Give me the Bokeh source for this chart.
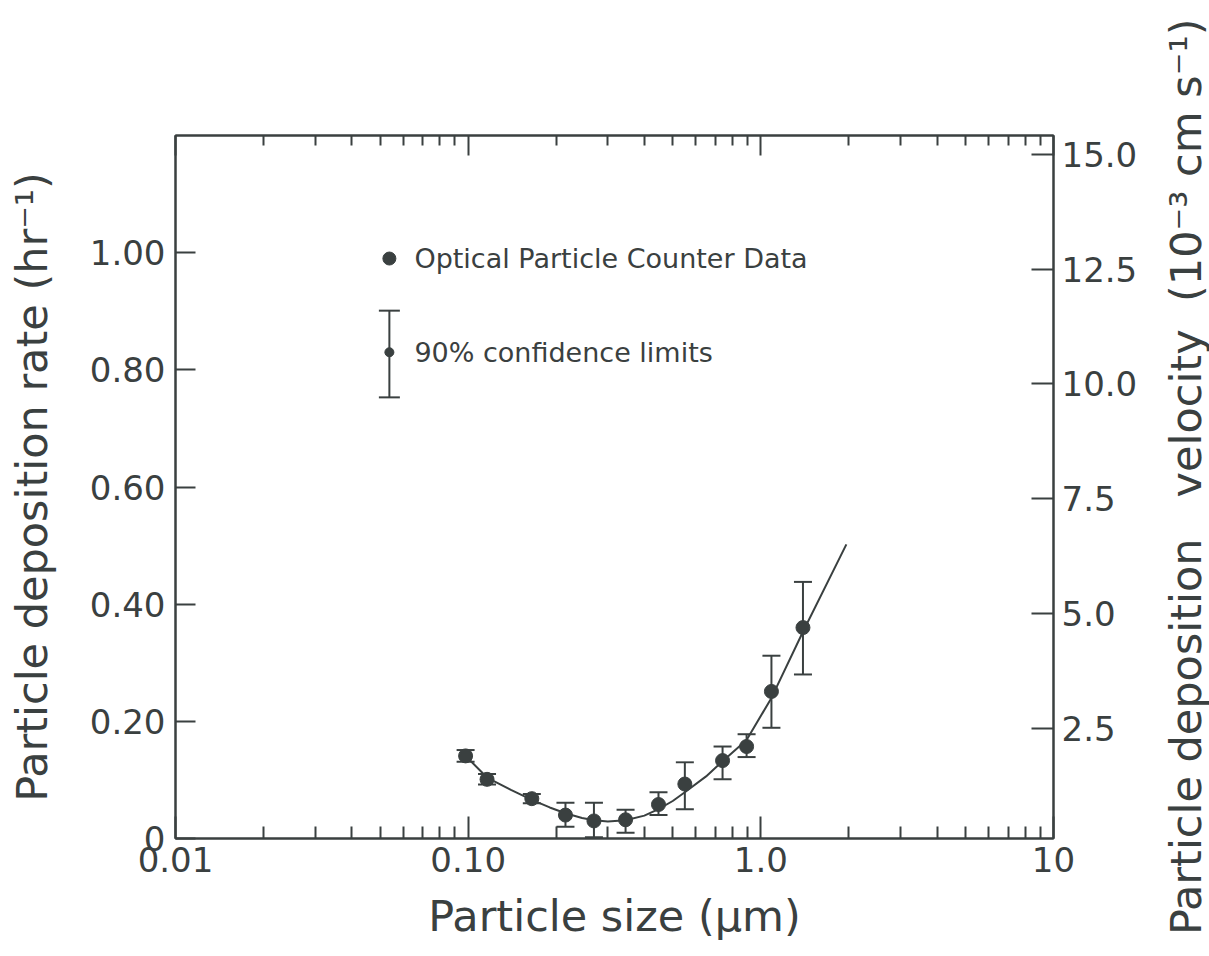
from bokeh.plotting import figure
from bokeh.layouts import row
from bokeh.models import (LogAxis, LinearAxis, Range1d, FixedTicker, Whisker, Div,
                          ColumnDataSource, Label, TeeHead, PrintfTickFormatter)
from bokeh.embed import file_html
from bokeh.resources import INLINE

# ---------------- data ----------------
size_um = [0.098, 0.116, 0.165, 0.215, 0.269, 0.345, 0.447, 0.55, 0.74, 0.894, 1.087, 1.393]
rate = [0.141, 0.101, 0.068, 0.040, 0.030, 0.032, 0.058, 0.093, 0.133, 0.157, 0.251, 0.360]
rate_lower = [0.131, 0.092, 0.060, 0.020, 0.002, 0.010, 0.040, 0.050, 0.101, 0.139, 0.189, 0.280]
rate_upper = [0.151, 0.110, 0.076, 0.061, 0.061, 0.049, 0.079, 0.130, 0.157, 0.178, 0.312, 0.438]

fit_size = [0.098, 0.116, 0.14, 0.165, 0.19, 0.215, 0.245, 0.27, 0.30, 0.345, 0.40,
            0.447, 0.50, 0.55, 0.65, 0.74, 0.894, 1.087, 1.393, 1.96]
fit_rate = [0.141, 0.104, 0.083, 0.066, 0.053, 0.043, 0.035, 0.031, 0.029, 0.031, 0.039,
            0.050, 0.064, 0.079, 0.106, 0.132, 0.168, 0.240, 0.353, 0.502]

x_major_ticks = [0.01, 0.1, 1, 10]
x_tick_labels = ["0.01", "0.10", "1.0", "10"]
y_left_ticks = [0, 0.2, 0.4, 0.6, 0.8, 1.0]
y_right_ticks = [2.5, 5.0, 7.5, 10.0, 12.5, 15.0]

x_title = "Particle size (\u03bcm)"
y_left_title = "Particle deposition rate (hr\u207b\u00b9)"
y_right_title = "Particle deposition\u00a0\u00a0\u00a0velocity\u00a0\u00a0(10\u207b\u00b3 cm s\u207b\u00b9)"

legend_marker_label = "Optical Particle Counter Data"
legend_bar_label = "90% confidence limits"
# legend sample (in data units of the chart area)
legend_x = 0.0538
legend_text_x = 0.0655
legend_marker_y = 0.990
legend_bar_y, legend_bar_lo, legend_bar_hi = 0.830, 0.753, 0.901

INK = "#3a4040"
FONT = "DejaVu Sans"

x_minor_ticks = [k * d for d in (0.01, 0.1, 1) for k in range(2, 10)]

FRAME_W, FRAME_H = 878, 703
TITLE_STRIP_W = 56
p = figure(x_axis_type="log", x_range=(0.01, 10), y_range=(0, 1.2),
           frame_width=FRAME_W, frame_height=FRAME_H,
           min_border_left=175, min_border_right=1209 - 175 - FRAME_W - TITLE_STRIP_W,
           min_border_top=135, min_border_bottom=118,
           output_backend="svg", toolbar_location=None,
           background_fill_color="white", border_fill_color="white")
p.grid.visible = False
p.outline_line_color = INK
p.outline_line_width = 2

xticker = FixedTicker(ticks=x_major_ticks, minor_ticks=x_minor_ticks)

# bottom axis
xa = p.xaxis[0]
xa.ticker = xticker
xa.major_label_overrides = {t: l for t, l in zip(x_major_ticks, x_tick_labels)}
xa.axis_label = x_title

# left axis
ya = p.yaxis[0]
ya.ticker = FixedTicker(ticks=y_left_ticks)
ya.formatter = PrintfTickFormatter(format="%.2f")
ya.major_label_overrides = {0: "0"}
ya.axis_label = y_left_title

# top axis (ticks only, labels invisible)
top = LogAxis(ticker=xticker, major_label_text_font_size="10px",
              major_label_text_alpha=0.0, major_label_standoff=0)
p.add_layout(top, "above")

# right axis
p.extra_y_ranges = {"v": Range1d(0.1, 15.41)}
ra = LinearAxis(y_range_name="v", ticker=FixedTicker(ticks=y_right_ticks),
                formatter=PrintfTickFormatter(format="%.1f"))
p.add_layout(ra, "right")

for ax in [xa, ya, top, ra]:
    ax.axis_line_color = INK
    ax.axis_line_width = 2
    ax.major_tick_line_color = INK
    ax.major_tick_line_width = 2
    ax.minor_tick_line_color = INK
    ax.minor_tick_line_width = 2
    ax.major_tick_out = 0
    ax.minor_tick_out = 0
    ax.major_label_text_font = FONT
    ax.axis_label_text_font = FONT
    ax.axis_label_text_color = INK
    ax.axis_label_text_font_style = "normal"
    ax.axis_label_text_font_size = "43px"

for ax in [xa, ya, ra]:
    ax.major_label_text_font_size = "34px"
    ax.major_label_text_color = INK

xa.major_tick_in = 22
xa.minor_tick_in = 12
top.major_tick_in = 20
top.minor_tick_in = 10
ya.major_tick_in = 20
ya.minor_tick_in = 0
ra.major_tick_in = 22
ra.minor_tick_in = 0

xa.major_label_standoff = 8
ya.major_label_standoff = 10
ra.major_label_standoff = 8
xa.axis_label_standoff = 16
ya.axis_label_standoff = 30

# fitted curve
p.line(fit_size, fit_rate, line_color=INK, line_width=2)

# error bars
src = ColumnDataSource(dict(x=size_um, y=rate, lo=rate_lower, hi=rate_upper))
wh = Whisker(source=src, base="x", lower="lo", upper="hi", dimension="height",
             line_color=INK, line_width=2,
             upper_head=TeeHead(size=18, line_color=INK, line_width=2),
             lower_head=TeeHead(size=18, line_color=INK, line_width=2))
p.add_layout(wh)
p.scatter("x", "y", source=src, size=14, fill_color=INK, line_color=INK)

# legend samples
p.scatter([legend_x], [legend_marker_y], size=13, fill_color=INK, line_color=INK)
lsrc = ColumnDataSource(dict(x=[legend_x], lo=[legend_bar_lo], hi=[legend_bar_hi]))
p.add_layout(Whisker(source=lsrc, base="x", lower="lo", upper="hi", dimension="height",
                     line_color=INK, line_width=2,
                     upper_head=TeeHead(size=21, line_color=INK, line_width=2),
                     lower_head=TeeHead(size=21, line_color=INK, line_width=2)))
p.scatter([legend_x], [legend_bar_y], size=9, fill_color=INK, line_color=INK)

for txt, yy in [(legend_marker_label, legend_marker_y), (legend_bar_label, legend_bar_y)]:
    p.add_layout(Label(x=legend_text_x, y=yy, text=txt, text_font=FONT,
                       text_font_size="27px", text_color=INK, text_baseline="middle"))

# narrow strip on the right carrying the right-axis title (reads bottom to top)
strip_html = (
    "<div style=\"writing-mode:vertical-rl; transform:rotate(180deg); "
    "white-space:nowrap; text-align:center; height:944px; width:"
    + str(TITLE_STRIP_W) + "px; line-height:" + str(TITLE_STRIP_W) + "px; "
    "font-family:'DejaVu Sans'; font-size:43px; color:" + INK + ";\">"
    + y_right_title + "</div>"
)
strip = Div(text=strip_html, width=TITLE_STRIP_W, height=956)

layout = row(p, strip, spacing=0)
open("out.html", "w").write(file_html(layout, INLINE))
